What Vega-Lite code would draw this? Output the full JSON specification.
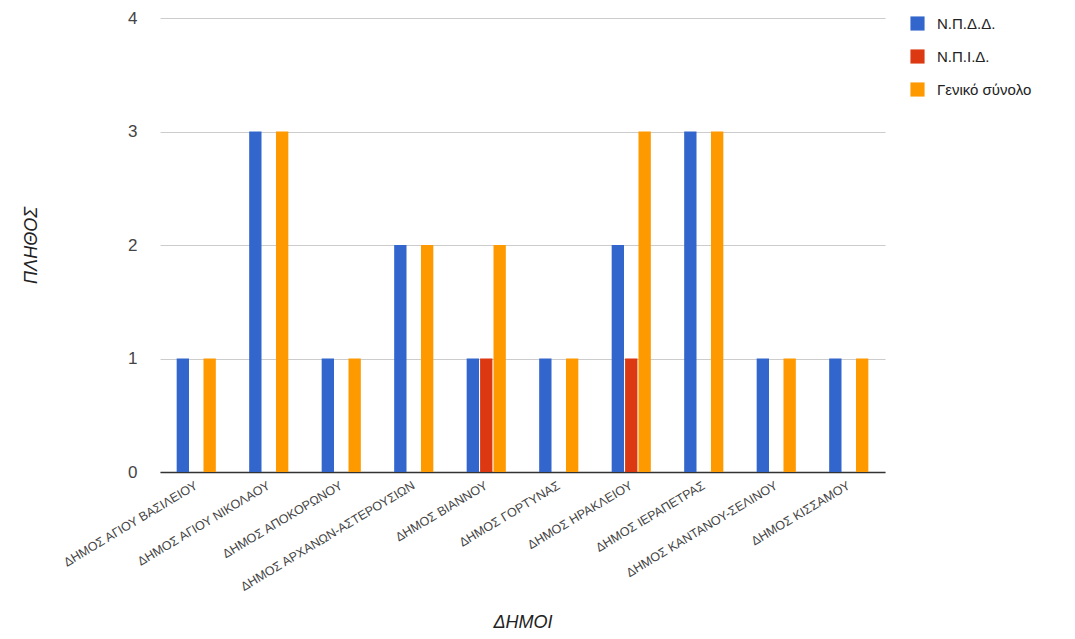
{
  "$schema": "https://vega.github.io/schema/vega-lite/v6.json",
  "width": 725,
  "height": 454,
  "autosize": {"type": "none"},
  "padding": {"left": 160, "top": 18, "right": 190, "bottom": 167},
  "background": "white",
  "config": {
    "view": {"stroke": null},
    "font": "Liberation Sans"
  },
  "data": {
    "values": [
      {"dimos": "ΔΗΜΟΣ ΑΓΙΟΥ ΒΑΣΙΛΕΙΟΥ", "series": "Ν.Π.Δ.Δ.", "value": 1},
      {"dimos": "ΔΗΜΟΣ ΑΓΙΟΥ ΒΑΣΙΛΕΙΟΥ", "series": "Γενικό σύνολο", "value": 1},
      {"dimos": "ΔΗΜΟΣ ΑΓΙΟΥ ΝΙΚΟΛΑΟΥ", "series": "Ν.Π.Δ.Δ.", "value": 3},
      {"dimos": "ΔΗΜΟΣ ΑΓΙΟΥ ΝΙΚΟΛΑΟΥ", "series": "Γενικό σύνολο", "value": 3},
      {"dimos": "ΔΗΜΟΣ ΑΠΟΚΟΡΩΝΟΥ", "series": "Ν.Π.Δ.Δ.", "value": 1},
      {"dimos": "ΔΗΜΟΣ ΑΠΟΚΟΡΩΝΟΥ", "series": "Γενικό σύνολο", "value": 1},
      {"dimos": "ΔΗΜΟΣ ΑΡΧΑΝΩΝ-ΑΣΤΕΡΟΥΣΙΩΝ", "series": "Ν.Π.Δ.Δ.", "value": 2},
      {"dimos": "ΔΗΜΟΣ ΑΡΧΑΝΩΝ-ΑΣΤΕΡΟΥΣΙΩΝ", "series": "Γενικό σύνολο", "value": 2},
      {"dimos": "ΔΗΜΟΣ ΒΙΑΝΝΟΥ", "series": "Ν.Π.Δ.Δ.", "value": 1},
      {"dimos": "ΔΗΜΟΣ ΒΙΑΝΝΟΥ", "series": "Ν.Π.Ι.Δ.", "value": 1},
      {"dimos": "ΔΗΜΟΣ ΒΙΑΝΝΟΥ", "series": "Γενικό σύνολο", "value": 2},
      {"dimos": "ΔΗΜΟΣ ΓΟΡΤΥΝΑΣ", "series": "Ν.Π.Δ.Δ.", "value": 1},
      {"dimos": "ΔΗΜΟΣ ΓΟΡΤΥΝΑΣ", "series": "Γενικό σύνολο", "value": 1},
      {"dimos": "ΔΗΜΟΣ ΗΡΑΚΛΕΙΟΥ", "series": "Ν.Π.Δ.Δ.", "value": 2},
      {"dimos": "ΔΗΜΟΣ ΗΡΑΚΛΕΙΟΥ", "series": "Ν.Π.Ι.Δ.", "value": 1},
      {"dimos": "ΔΗΜΟΣ ΗΡΑΚΛΕΙΟΥ", "series": "Γενικό σύνολο", "value": 3},
      {"dimos": "ΔΗΜΟΣ ΙΕΡΑΠΕΤΡΑΣ", "series": "Ν.Π.Δ.Δ.", "value": 3},
      {"dimos": "ΔΗΜΟΣ ΙΕΡΑΠΕΤΡΑΣ", "series": "Γενικό σύνολο", "value": 3},
      {"dimos": "ΔΗΜΟΣ ΚΑΝΤΑΝΟΥ-ΣΕΛΙΝΟΥ", "series": "Ν.Π.Δ.Δ.", "value": 1},
      {"dimos": "ΔΗΜΟΣ ΚΑΝΤΑΝΟΥ-ΣΕΛΙΝΟΥ", "series": "Γενικό σύνολο", "value": 1},
      {"dimos": "ΔΗΜΟΣ ΚΙΣΣΑΜΟΥ", "series": "Ν.Π.Δ.Δ.", "value": 1},
      {"dimos": "ΔΗΜΟΣ ΚΙΣΣΑΜΟΥ", "series": "Γενικό σύνολο", "value": 1}
    ]
  },
  "mark": {"type": "bar"},
  "encoding": {
    "x": {
      "field": "dimos",
      "type": "nominal",
      "sort": null,
      "scale": {"paddingInner": 0.46, "paddingOuter": 0.23},
      "axis": {
        "title": "ΔΗΜΟΙ",
        "titleFont": "Liberation Sans",
        "titleFontStyle": "italic",
        "titleFontWeight": "normal",
        "titleFontSize": 18,
        "titleColor": "#222222",
        "titleY": 150,
        "titleBaseline": "middle",
        "labelAngle": -31,
        "labelFontSize": 12.5,
        "labelColor": "#444444",
        "labelAlign": "right",
        "labelBaseline": "middle",
        "labelPadding": 12,
        "labelLimit": 300,
        "labelOverlap": false,
        "ticks": false,
        "domainColor": "#333333",
        "domainWidth": 1.5
      }
    },
    "xOffset": {
      "field": "series",
      "type": "nominal",
      "scale": {"domain": ["Ν.Π.Δ.Δ.", "Ν.Π.Ι.Δ.", "Γενικό σύνολο"], "paddingInner": 0.08}
    },
    "y": {
      "field": "value",
      "type": "quantitative",
      "scale": {"domain": [0, 4]},
      "axis": {
        "title": "ΠΛΗΘΟΣ",
        "titleFont": "Liberation Sans",
        "titleFontStyle": "italic",
        "titleFontWeight": "normal",
        "titleFontSize": 18,
        "titleColor": "#222222",
        "titleX": -120,
        "titleAngle": -90,
        "values": [0, 1, 2, 3, 4],
        "labelOverlap": false,
        "labelFontSize": 17,
        "labelColor": "#444444",
        "labelPadding": 23,
        "ticks": false,
        "domain": false,
        "gridColor": "#cccccc"
      }
    },
    "color": {
      "field": "series",
      "type": "nominal",
      "scale": {
        "domain": ["Ν.Π.Δ.Δ.", "Ν.Π.Ι.Δ.", "Γενικό σύνολο"],
        "range": ["#3366cc", "#dc3912", "#ff9900"]
      },
      "legend": {
        "title": null,
        "orient": "none",
        "legendX": 750,
        "legendY": -2,
        "symbolType": "square",
        "symbolSize": 200,
        "symbolStrokeWidth": 0,
        "labelFontSize": 15,
        "labelColor": "#222222",
        "rowPadding": 17,
        "labelOffset": 12
      }
    }
  }
}
